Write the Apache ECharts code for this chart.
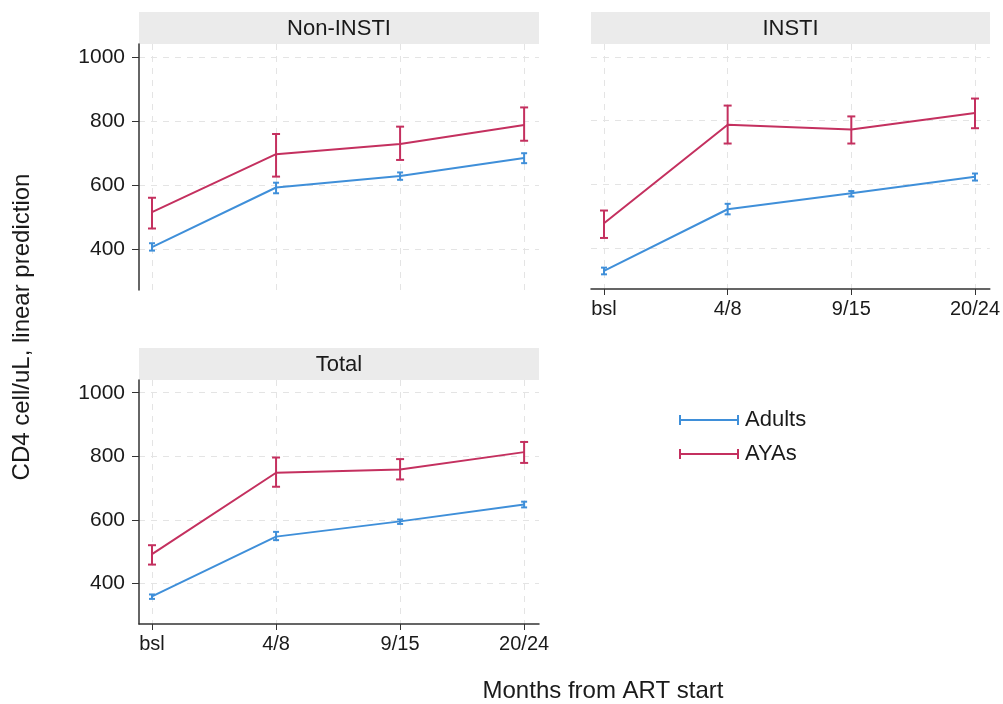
<!DOCTYPE html>
<html>
<head>
<meta charset="utf-8">
<script src="https://cdn.jsdelivr.net/npm/echarts@6/dist/echarts.min.js"></script>
<style>
  html, body { margin: 0; padding: 0; background: #fff; }
  #chart { width: 1003px; height: 704px; }
</style>
</head>
<body>
<div id="chart"></div>
<script>
// data
var timepoints = ['bsl', '4/8', '9/15', '20/24']
var yTicks = [400, 600, 800, 1000]
var panels = ['Non-INSTI', 'INSTI', 'Total']

// Non-INSTI
var nonAdults = [406, 592, 628, 684]
var nonAdultsLo = [395, 574, 616, 668]
var nonAdultsHi = [418, 607, 639, 699]
var nonAyas = [515, 696, 728, 787]
var nonAyasLo = [464, 626, 678, 738]
var nonAyasHi = [560, 759, 782, 842]

// INSTI
var instiAdults = [329, 522, 572, 624]
var instiAdultsLo = [318, 506, 562, 612]
var instiAdultsHi = [339, 539, 579, 634]
var instiAyas = [478, 787, 772, 824]
var instiAyasLo = [432, 728, 728, 776]
var instiAyasHi = [518, 847, 813, 869]

// Total
var totAdults = [359, 547, 595, 648]
var totAdultsLo = [351, 536, 587, 639]
var totAdultsHi = [365, 562, 601, 657]
var totAyas = [492, 748, 758, 813]
var totAyasLo = [459, 704, 727, 779]
var totAyasHi = [520, 796, 791, 845]

var blue = '#3f8fd9'
var red = '#c4305f'
var gridColor = '#e4e4e4'
var font = 'Liberation Sans, Arial, sans-serif'

var chart = echarts.init(document.getElementById('chart'))

function pts(vals) {
  return vals.map(function(v, i) { return [i, v] })
}
function bars(lo, hi) {
  return lo.map(function(v, i) { return [i, v, hi[i]] })
}

function errorBar(capHalf, color) {
  return function(params, api) {
    var x = api.value(0)
    var a = api.coord([x, api.value(1)])
    var b = api.coord([x, api.value(2)])
    var st = { stroke: color, lineWidth: 2 }
    return {
      type: 'group',
      children: [
        { type: 'line', shape: { x1: a[0], y1: a[1], x2: b[0], y2: b[1] }, style: st },
        { type: 'line', shape: { x1: a[0] - capHalf, y1: a[1], x2: a[0] + capHalf, y2: a[1] }, style: st },
        { type: 'line', shape: { x1: b[0] - capHalf, y1: b[1], x2: b[0] + capHalf, y2: b[1] }, style: st }
      ]
    }
  }
}

var gridDefs = [
  { left: 139, top: 44, width: 400, height: 246 },
  { left: 591, top: 44, width: 399, height: 245 },
  { left: 139, top: 380, width: 400, height: 244 }
]

var xAxes = gridDefs.map(function(g, i) {
  var showAxis = i !== 0
  return {
    type: 'value',
    gridIndex: i,
    min: -0.105,
    max: 3.12,
    axisLine: { show: showAxis, onZero: false, lineStyle: { color: '#333', width: 1.5 } },
    axisTick: { show: showAxis, customValues: [0, 1, 2, 3], length: 6, lineStyle: { color: '#333' } },
    axisLabel: {
      show: showAxis,
      customValues: [0, 1, 2, 3],
      formatter: function(v) { return timepoints[Math.round(v)] },
      color: '#1a1a1a', fontSize: 20, fontFamily: font, margin: 10
    },
    splitLine: { show: true, customValues: [0, 1, 2, 3], lineStyle: { color: gridColor, type: [6, 6], width: 1 } }
  }
})

var yAxes = gridDefs.map(function(g, i) {
  var showAxis = i !== 1
  return {
    type: 'value',
    gridIndex: i,
    min: 272,
    max: 1040,
    axisLine: { show: showAxis, onZero: false, lineStyle: { color: '#333', width: 1.5 } },
    axisTick: { show: showAxis, customValues: yTicks, length: 7, lineStyle: { color: '#333' } },
    axisLabel: {
      show: showAxis,
      customValues: yTicks,
      formatter: function(v) { return String(v) },
      color: '#1a1a1a', fontSize: 21, fontFamily: font, margin: 14
    },
    splitLine: { show: true, customValues: yTicks, lineStyle: { color: gridColor, type: [6, 6], width: 1 } }
  }
})

var panelData = [
  [nonAdults, nonAdultsLo, nonAdultsHi, nonAyas, nonAyasLo, nonAyasHi],
  [instiAdults, instiAdultsLo, instiAdultsHi, instiAyas, instiAyasLo, instiAyasHi],
  [totAdults, totAdultsLo, totAdultsHi, totAyas, totAyasLo, totAyasHi]
]

var series = []
panelData.forEach(function(d, i) {
  series.push({
    name: 'Adults', type: 'line', xAxisIndex: i, yAxisIndex: i,
    data: pts(d[0]), symbol: 'none', color: blue,
    lineStyle: { color: blue, width: 2 }, animation: false, z: 3
  })
  series.push({
    name: 'Adults', type: 'custom', xAxisIndex: i, yAxisIndex: i,
    data: bars(d[1], d[2]), renderItem: errorBar(3, blue), animation: false, z: 4
  })
  series.push({
    name: 'AYAs', type: 'line', xAxisIndex: i, yAxisIndex: i,
    data: pts(d[3]), symbol: 'none', color: red,
    lineStyle: { color: red, width: 2 }, animation: false, z: 3
  })
  series.push({
    name: 'AYAs', type: 'custom', xAxisIndex: i, yAxisIndex: i,
    data: bars(d[4], d[5]), renderItem: errorBar(4, red), animation: false, z: 4
  })
})

// facet header strips
var headers = []
gridDefs.forEach(function(g, i) {
  headers.push({
    type: 'rect',
    shape: { x: g.left, y: g.top - 32, width: g.width, height: 32 },
    style: { fill: '#ebebeb' }
  })
  headers.push({
    type: 'text',
    x: g.left + g.width / 2, y: g.top - 15,
    style: {
      text: panels[i], fill: '#1a1a1a', font: '22px ' + font,
      align: 'center', verticalAlign: 'middle'
    }
  })
})

headers.push({
  type: 'text', x: 22, y: 327, rotation: Math.PI / 2,
  style: {
    text: 'CD4 cell/uL, linear prediction', fill: '#1a1a1a', font: '24px ' + font,
    align: 'center', verticalAlign: 'middle'
  }
})
headers.push({
  type: 'text', x: 603, y: 691,
  style: {
    text: 'Months from ART start', fill: '#1a1a1a', font: '24px ' + font,
    align: 'center', verticalAlign: 'middle'
  }
})

chart.setOption({
  backgroundColor: '#fff',
  animation: false,
  grid: gridDefs,
  xAxis: xAxes,
  yAxis: yAxes,
  legend: {
    data: [
      { name: 'Adults', itemStyle: { color: blue } },
      { name: 'AYAs', itemStyle: { color: red } }
    ],
    orient: 'vertical',
    left: 674,
    top: 404,
    itemGap: 12,
    itemWidth: 62,
    itemHeight: 10,
    icon: 'path://M0,0h2v10h-2z M2,4h56v2h-56z M58,0h2v10h-2z',
    textStyle: { color: '#1a1a1a', fontSize: 22, fontFamily: font },
    selectedMode: false
  },
  graphic: headers,
  series: series
})
</script>
</body>
</html>
